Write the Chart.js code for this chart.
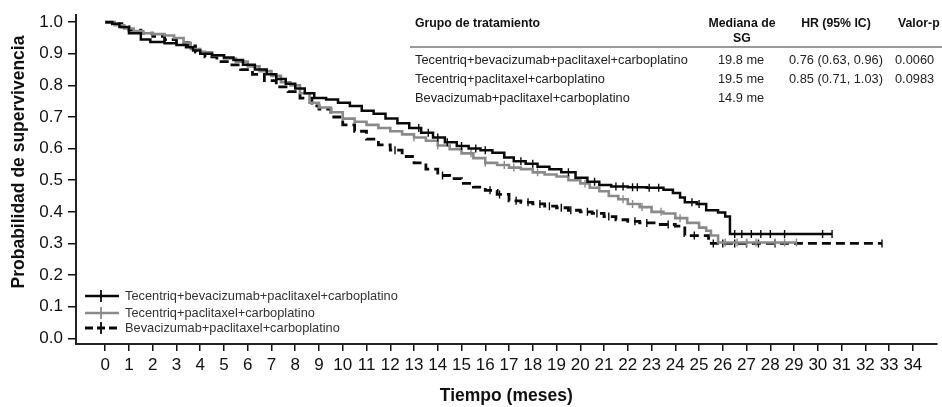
<!DOCTYPE html>
<html><head><meta charset="utf-8">
<script src="https://cdn.jsdelivr.net/npm/chart.js@4"></script>
<style>
html,body{margin:0;padding:0;background:#fff;}
#wrap{position:relative;width:942px;height:407px;overflow:hidden;font-family:"Liberation Sans",Arial,sans-serif;}
canvas{position:absolute;left:0;top:0;}
.t{position:absolute;font-size:12.8px;color:#222;white-space:nowrap;line-height:14px;}
.b{font-weight:bold;color:#111;font-size:12.3px;}
.c{text-align:center;}
.lg{position:absolute;font-size:12.8px;color:#333;white-space:nowrap;line-height:14px;}
.yt{position:absolute;font-size:17.5px;font-weight:bold;color:#111;white-space:nowrap;line-height:20px;text-align:center;width:300px;transform:rotate(-90deg);transform-origin:50% 50%;}
svg{position:absolute;}
</style></head>
<body><div id="wrap"><canvas id="c" width="942" height="407"></canvas></div>
<script>
// ---- data ----
const seriesLabels = ['Tecentriq+bevacizumab+paclitaxel+carboplatino','Tecentriq+paclitaxel+carboplatino','Bevacizumab+paclitaxel+carboplatino'];

const timeABCP = [0,0.3,0.6,1.0,1.5,1.9,2.5,3.0,3.4,3.7,4.0,4.5,5.0,5.4,5.8,6.3,6.8,7.2,7.6,8.0,8.4,8.8,9.3,9.8,10.3,10.8,11.3,11.8,12.3,12.8,13.3,13.8,14.3,14.8,15.3,15.8,16.3,16.8,17.2,17.7,18.2,18.7,19.2,19.8,20.3,20.8,21.3,22.0,22.8,23.5,23.9,24.2,24.4,24.9,25.3,25.8,26.1,26.3,30.6];
const survABCP = [1.0,0.995,0.985,0.965,0.945,0.937,0.933,0.928,0.921,0.91,0.90,0.895,0.888,0.88,0.865,0.85,0.835,0.82,0.805,0.79,0.775,0.76,0.755,0.745,0.735,0.72,0.71,0.695,0.68,0.665,0.65,0.635,0.62,0.608,0.60,0.595,0.587,0.572,0.56,0.552,0.543,0.535,0.525,0.508,0.495,0.485,0.48,0.478,0.476,0.47,0.46,0.445,0.43,0.425,0.405,0.398,0.385,0.33,0.33];
const censorABCP = [13.2,13.6,14.0,14.4,15.0,15.6,16.0,17.5,18.0,19.5,20.6,21.5,21.8,22.2,22.4,22.9,23.3,24.7,25.0,26.5,26.8,27.2,27.6,28.0,28.6,30.2,30.6];

const timeACP = [0,0.4,0.8,1.2,1.6,2.0,2.5,2.9,3.3,3.6,4.0,4.5,5.0,5.5,6.0,6.5,7.0,7.4,7.8,8.2,8.6,9.0,9.5,10.0,10.5,11.0,11.5,12.0,12.5,13.0,13.5,14.0,14.5,15.0,15.5,16.0,16.5,17.0,17.5,18.0,18.5,19.0,19.5,20.0,20.4,20.8,21.2,21.6,22.0,22.5,23.0,23.5,24.0,24.5,25.0,25.3,25.5,25.8,29.1];
const survACP = [1.0,0.99,0.98,0.972,0.965,0.962,0.958,0.95,0.935,0.915,0.905,0.895,0.885,0.875,0.86,0.845,0.83,0.81,0.80,0.775,0.745,0.73,0.715,0.695,0.685,0.675,0.665,0.655,0.645,0.635,0.625,0.61,0.598,0.585,0.57,0.555,0.548,0.54,0.535,0.525,0.518,0.512,0.50,0.49,0.476,0.465,0.45,0.44,0.425,0.415,0.40,0.395,0.38,0.365,0.35,0.34,0.325,0.303,0.303];
const censorACP = [13.0,14.0,15.4,16.0,16.8,17.2,18.2,20.2,21.8,22.2,22.6,23.4,24.2,26.1,26.6,27.0,27.4,28.2,28.6,29.1];

const timeBCP = [0,0.3,0.7,1.0,1.5,2.0,2.5,3.0,3.5,3.8,4.2,4.7,5.2,5.7,6.2,6.7,7.2,7.7,8.2,8.7,9.0,9.5,10.0,10.5,11.0,11.5,12.0,12.5,13.0,13.5,14.0,14.5,15.0,15.5,16.0,16.5,17.0,17.5,18.0,18.5,19.0,19.5,20.0,20.5,21.0,21.5,22.0,22.5,23.2,24.0,24.4,25.4,32.7];
const survBCP = [1.0,0.995,0.985,0.975,0.965,0.955,0.945,0.935,0.925,0.905,0.89,0.875,0.865,0.85,0.835,0.815,0.795,0.78,0.76,0.735,0.725,0.70,0.675,0.655,0.63,0.612,0.595,0.575,0.555,0.535,0.515,0.505,0.49,0.478,0.468,0.455,0.435,0.43,0.425,0.418,0.413,0.405,0.40,0.395,0.385,0.375,0.37,0.365,0.36,0.355,0.325,0.30,0.30];
const censorBCP = [12.2,14.2,16.2,16.6,17.3,17.8,18.3,18.7,19.2,19.6,20.3,20.7,21.2,22.3,22.8,23.7,24.8,25.6,26.0,26.5,27.0,27.5,28.2,32.7];

const xTickLabels = ['0','1','2','3','4','5','6','7','8','9','10','11','12','13','14','15','16','17','18','19','20','21','22','23','24','25','26','27','28','29','30','31','32','33','34'];
const yTickLabels = ['0.0','0.1','0.2','0.3','0.4','0.5','0.6','0.7','0.8','0.9','1.0'];
const xTitle = 'Tiempo (meses)';
const yTitle = 'Probabilidad de supervivencia';

const tableHeader = ['Grupo de tratamiento','Mediana de','SG','HR (95% IC)','Valor-p'];
const tableGroups = ['Tecentriq+bevacizumab+paclitaxel+carboplatino','Tecentriq+paclitaxel+carboplatino','Bevacizumab+paclitaxel+carboplatino'];
const tableMedian = ['19.8 me','19.5 me','14.9 me'];
const tableHR = ['0.76 (0.63, 0.96)','0.85 (0.71, 1.03)',''];
const tableP = ['0.0060','0.0983',''];

// ---- helpers ----
function pts(ts, ss){ return ts.map((t,i)=>({x:t,y:ss[i]})); }
function stepAt(ts, ss, t){ let v=ss[0]; for(let i=0;i<ts.length;i++){ if(ts[i]<=t) v=ss[i]; } return v; }
function cens(cs, ts, ss){ return cs.map(t=>({x:t,y:stepAt(ts,ss,t)})); }

const BLACK='#0a0a0a', GRAY='#8a8a8a';
const FONT='"Liberation Sans", Arial, sans-serif';
const lineDs = (label, data, color, dash, order, w) => ({label, data, borderColor:color, backgroundColor:color, borderWidth:w, borderDash:dash, stepped:'before', pointRadius:0, fill:false, order});
const censDs = (data, color, order) => ({type:'scatter', data, showLine:false, pointStyle:'line', rotation:90, pointRadius:4, borderColor:color, borderWidth:1.4, order});

new Chart(document.getElementById('c'), {
  type:'line',
  data:{ datasets:[
    lineDs(seriesLabels[0], pts(timeABCP,survABCP), BLACK, [], 1, 2.5),
    censDs(cens(censorABCP,timeABCP,survABCP), BLACK, 0),
    lineDs(seriesLabels[1], pts(timeACP,survACP), GRAY, [], 3, 2.6),
    censDs(cens(censorACP,timeACP,survACP), GRAY, 2),
    lineDs(seriesLabels[2], pts(timeBCP,survBCP), BLACK, [9,5], 5, 2.8),
    censDs(cens(censorBCP,timeBCP,survBCP), BLACK, 4)
  ]},
  options:{
    responsive:false, animation:false, devicePixelRatio:1,
    layout:{padding:{top:13,right:0,bottom:0,left:0}},
    plugins:{legend:{display:false}, tooltip:{enabled:false}},
    scales:{
      x:{type:'linear', min:-1.23, max:35,
        afterBuildTicks:(s)=>{ s.ticks = xTickLabels.map(v=>({value:Number(v)})); },
        afterFit:(s)=>{ s.height = 63; },
        ticks:{ callback:(v)=>xTickLabels[xTickLabels.indexOf(String(v))], color:'#111', font:{family:FONT, size:17}, padding:4, maxRotation:0, autoSkip:false },
        grid:{ display:true, drawOnChartArea:false, tickLength:7, color:'#111', lineWidth:1.5 },
        border:{ display:true, color:'#222', width:2 },
        title:{ display:true, text:xTitle, color:'#111', font:{family:FONT, size:17.5, weight:'bold'}, padding:{top:0,bottom:0} }
      },
      y:{type:'linear', min:-0.018, max:1.022,
        afterBuildTicks:(s)=>{ s.ticks = yTickLabels.map(v=>({value:Number(v)})); },
        afterFit:(s)=>{ s.width = 76; },
        ticks:{ callback:(v)=>yTickLabels[Math.round(v*10)], color:'#111', font:{family:FONT, size:17}, padding:5, autoSkip:false },
        grid:{ display:true, drawOnChartArea:false, tickLength:8, color:'#111', lineWidth:1.5 },
        border:{ display:true, color:'#222', width:2 },
        title:{ display:false }
      }
    }
  }
});

// ---- y title, table & legend overlays (HTML text) ----
const wrap = document.getElementById('wrap');
function addText(txt, left, top, cls, width){
  const d=document.createElement('div'); d.className=cls; d.textContent=txt;
  d.style.left=left+'px'; d.style.top=top+'px'; if(width){d.style.width=width+'px';}
  wrap.appendChild(d); return d;
}
addText(yTitle, 18-150, 162-10, 'yt');
addText(tableHeader[0], 415, 16, 't b');
addText(tableHeader[1], 702, 16, 't b c', 80);
addText(tableHeader[2], 702, 31, 't b c', 80);
addText(tableHeader[3], 786, 16, 't b c', 100);
addText(tableHeader[4], 898, 16, 't b');
const rule=document.createElement('div'); rule.style.cssText='position:absolute;left:410px;top:46px;width:532px;height:2px;background:#999;'; wrap.appendChild(rule);
const rowTops=[52.5,72,91];
tableGroups.forEach((g,i)=>{
  addText(g, 415, rowTops[i], 't');
  addText(tableMedian[i], 718, rowTops[i], 't');
  addText(tableHR[i], 789, rowTops[i], 't');
  addText(tableP[i], 895, rowTops[i], 't');
});
const legendCenters=[296,312.7,328.3];
const legendStyles=[{c:BLACK,d:'',w:2.5},{c:GRAY,d:'',w:2.6},{c:BLACK,d:'8,4',w:2.8}];
seriesLabels.forEach((lab,i)=>{
  const st=legendStyles[i];
  const svg=document.createElementNS('http://www.w3.org/2000/svg','svg');
  svg.setAttribute('width','36'); svg.setAttribute('height','14');
  svg.style.left='84px'; svg.style.top=(legendCenters[i]-7)+'px';
  svg.innerHTML='<line x1="1" y1="7" x2="35" y2="7" stroke="'+st.c+'" stroke-width="'+st.w+'" '+(st.d?'stroke-dasharray="'+st.d+'"':'')+'/>'+
    '<line x1="17" y1="1" x2="17" y2="13" stroke="'+st.c+'" stroke-width="1.8"/>';
  wrap.appendChild(svg);
  addText(lab, 125, legendCenters[i]-7, 'lg');
});
</script>
</body></html>
